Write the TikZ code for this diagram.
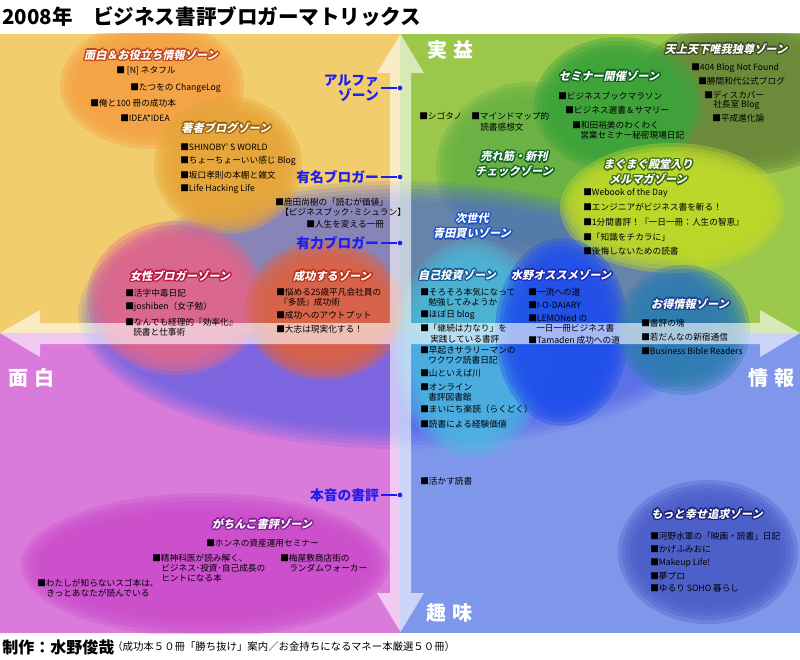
\documentclass[tikz,border=0pt]{standalone}
\usepackage{fontspec}
\setmainfont{Noto Sans CJK JP}
\newfontfamily\jpslant{Noto Sans CJK JP}[FakeSlant=0.22]
\definecolor{qTL}{HTML}{F2CD6D}
\definecolor{qTR}{HTML}{9BC84B}
\definecolor{qBL}{HTML}{DA7BDB}
\definecolor{qBR}{HTML}{7F97EB}
\definecolor{lblue}{HTML}{1E1EF0}
\definecolor{cOr}{HTML}{F6A245}
\definecolor{cGold}{HTML}{E6A53A}
\definecolor{cRose}{HTML}{E2668C}
\definecolor{cRed}{HTML}{DE6242}
\definecolor{cPurp}{HTML}{CC4ECC}
\definecolor{cOlive}{HTML}{6B893A}
\definecolor{cSem}{HTML}{3DA33A}
\definecolor{cUre}{HTML}{6AB244}
\definecolor{cMag}{HTML}{BED82A}
\definecolor{cNext}{HTML}{4A5CE8}
\definecolor{cSelf}{HTML}{48C0E0}
\definecolor{cMizu}{HTML}{2050EC}
\definecolor{cOtoku}{HTML}{2D7CB0}
\definecolor{cMotto}{HTML}{4A5CC8}
\definecolor{olOr}{HTML}{C0461A}
\definecolor{olGold}{HTML}{9A6410}
\definecolor{olRose}{HTML}{B5143C}
\definecolor{olRed}{HTML}{B8301A}
\definecolor{olPurp}{HTML}{7B1F8C}
\definecolor{olOlive}{HTML}{3C4A22}
\definecolor{olGreen}{HTML}{0E5E22}
\definecolor{olMag}{HTML}{3A6A12}
\definecolor{olBlue}{HTML}{1B50C8}
\definecolor{olTeal}{HTML}{135C9A}
\definecolor{olNavy}{HTML}{1C28B0}
\definecolor{olDBlue}{HTML}{1C3F8C}
\definecolor{olNight}{HTML}{1A1F78}
\newlength\olw
\setlength\olw{1.1pt}
\newcommand\olt[2]{\leavevmode
 \rlap{\kern-\olw\textcolor{#1}{#2}}%
 \rlap{\kern\olw\textcolor{#1}{#2}}%
 \rlap{\raisebox{\olw}{\textcolor{#1}{#2}}}%
 \rlap{\raisebox{-\olw}{\textcolor{#1}{#2}}}%
 \rlap{\kern-0.7\olw\raisebox{0.7\olw}{\textcolor{#1}{#2}}}%
 \rlap{\kern0.7\olw\raisebox{0.7\olw}{\textcolor{#1}{#2}}}%
 \rlap{\kern-0.7\olw\raisebox{-0.7\olw}{\textcolor{#1}{#2}}}%
 \rlap{\kern0.7\olw\raisebox{-0.7\olw}{\textcolor{#1}{#2}}}%
 \textcolor{white}{#2}}
\newcommand\blob[7]{%
 \foreach \dd in {12,8,4,0,-4,-8}{%
   \pgfmathsetmacro\brx{#3+\dd}\pgfmathsetmacro\bry{#4+\dd}%
   \fill[#6,opacity=#7] (#1,#2) ellipse [x radius=\brx, y radius=\bry, rotate=#5];
 }}
\newcommand\itmfont{\fontsize{6.5}{7.8}\selectfont}
\newcommand\zfont{\jpslant\bfseries\fontsize{8.4}{9}\selectfont}
\newcommand\blfont{\bfseries\fontsize{10.3}{9.8}\selectfont}
\newcommand\axfont{\bfseries\fontsize{15}{15}\selectfont}
\tikzset{
 itm/.style={font=\itmfont, anchor=west, inner sep=0pt, text=black},
 zlab/.style={font=\zfont, inner sep=0pt, align=center},
 blu/.style={font=\blfont, text=lblue, inner sep=1.5pt, anchor=east, align=right},
 bdot/.style={circle, fill=lblue, inner sep=0pt, minimum size=3.5pt},
 bline/.style={draw=lblue, line width=0.8pt},
 axl/.style={font=\axfont, text=white, inner sep=0pt},
}
\begin{document}
\begin{tikzpicture}[x=0.75pt,y=-0.75pt]
\useasboundingbox (0,0) rectangle (800,660);
\fill[white] (0,0) rectangle (800,660);
\begin{scope}
\clip (0,34) rectangle (800,633);
% quadrants
\fill[qTL] (0,34) rectangle (400,333);
\fill[qTR] (400,34) rectangle (800,333);
\fill[qBL] (0,333) rectangle (400,633);
\fill[qBR] (400,333) rectangle (800,633);
% zones
\blob{530}{168}{82}{74}{0}{cUre}{0.4}
\blob{400}{315}{310}{122}{0}{cNext}{0.15}
\blob{152}{85}{80}{52}{0}{cOr}{0.4}
\blob{228}{165}{62}{57}{0}{cGold}{0.4}
\blob{176}{298}{77}{65}{0}{cRose}{0.35}
\blob{325}{310}{68}{58}{0}{cRed}{0.35}
\blob{205}{565}{172}{60}{0}{cPurp}{0.35}
\blob{745}{97}{102}{66}{0}{cOlive}{0.4}
\blob{618}{105}{72}{56}{0}{cSem}{0.4}
\blob{672}{208}{100}{53}{0}{cMag}{0.4}
\blob{472}{348}{67}{98}{0}{cSelf}{0.22}
\blob{562}{332}{55}{82}{0}{cMizu}{0.38}
\blob{683}{330}{55}{53}{0}{cOtoku}{0.35}
\blob{708}{552}{78}{60}{0}{cMotto}{0.35}
% axes
\fill[white,opacity=0.6]
 (400.5,34) -- (424,73) -- (411,73) -- (411,593) -- (424,593) -- (400.5,632)
 -- (377,593) -- (390,593) -- (390,73) -- (377,73) -- cycle
 (0,333) -- (40,310) -- (40,323) -- (760,323) -- (760,310) -- (800,333)
 -- (760,357) -- (760,344) -- (40,344) -- (40,357) -- cycle;
\end{scope}
% title and footer
\node[anchor=west, inner sep=0pt, font=\bfseries\fontsize{15.4}{16}\selectfont] (title) at (2,17) {2008年　ビジネス書評ブロガーマトリックス};
\node[anchor=west, inner sep=0pt, font=\bfseries\fontsize{12}{12}\selectfont] (author) at (2,647) {制作：水野俊哉};
\node[anchor=west, inner sep=0pt, font=\fontsize{7.8}{8}\selectfont] (books) at (112,647) {（成功本５０冊「勝ち抜け」案内／お金持ちになるマネー本厳選５０冊）};
% axis labels
\node[axl] (ax1) at (450,50) {実\hspace{0.3em}益};
\node[axl] (ax2) at (31,378) {面\hspace{0.3em}白};
\node[axl] (ax3) at (771,378) {情\hspace{0.3em}報};
\node[axl] (ax4) at (449,613) {趣\hspace{0.3em}味};
% blue labels
\node[blu] (alpha) at (381,88) {アルファ\\ゾーン};
\node[bdot] (dA) at (400,88) {};
\draw[bline] (alpha.east) -- (dA);
\node[blu] (famous) at (381,177) {有名ブロガー};
\node[bdot] (dF) at (400,177) {};
\draw[bline] (famous.east) -- (dF);
\node[blu] (strong) at (381,243) {有力ブロガー};
\node[bdot] (dS) at (400,243) {};
\draw[bline] (strong.east) -- (dS);
\node[blu] (honne) at (381,495) {本音の書評};
\node[bdot] (dH) at (400,495) {};
\draw[bline] (honne.east) -- (dH);
% zone: omoshiro
\node[zlab] (z1) at (151,55) {\olt{olOr}{面白＆お役立ち情報ゾーン}};
\node[itm] (a1) at (116,71) {■ [N] ネタフル};
\node[itm] (a2) at (130,88) {■たつをの ChangeLog};
\node[itm] (a3) at (90,103) {■俺と100 冊の成功本};
\node[itm] (a4) at (120,118) {■IDEA*IDEA};
% zone: chosha
\node[zlab] (z2) at (226,128) {\olt{olGold}{著者ブログゾーン}};
\node[itm] (b1) at (180,147) {■SHINOBY' S WORLD};
\node[itm] (b2) at (180,161) {■ちょーちょーいい感じ Blog};
\node[itm] (b3) at (180,175) {■坂口孝則の本棚と雑文};
\node[itm] (b4) at (180,189) {■Life Hacking Life};
% gray band
\node[itm] (g1) at (275,202) {■鹿田尚樹の「読むが価値」};
\node[itm] (g2) at (280,212) {【ビジネスブック･ミシュラン】};
\node[itm] (g3) at (306,224) {■人生を変える一冊};
% zone: josei
\node[zlab] (z3) at (180,276) {\olt{olRose}{女性ブロガーゾーン}};
\node[itm] (c1) at (125,293) {■活字中毒日記};
\node[itm] (c2) at (125,307) {■joshiben（女子勉）};
\node[itm] (c3) at (125,322) {■なんでも経理的『効率化』};
\node[itm] (c4) at (133,332) {読書と仕事術};
% zone: seiko
\node[zlab] (z4) at (332,276) {\olt{olRed}{成功するゾーン}};
\node[itm] (d1) at (276,292) {■悩める25歳平凡会社員の};
\node[itm] (d2) at (279,302) {『多読』成功術};
\node[itm] (d3) at (276,315) {■成功へのアウトプット};
\node[itm] (d4) at (276,329) {■大志は現実化する！};
% zone: gachinko
\node[zlab] (z5) at (262,524) {\olt{olPurp}{がちんこ書評ゾーン}};
\node[itm] (e1) at (206,543) {■ホンネの資産運用セミナー};
\node[itm] (e2) at (152,558) {■精神科医が読み解く、};
\node[itm] (e3) at (161,568) {ビジネス･投資･自己成長の};
\node[itm] (e4) at (161,578) {ヒントになる本};
\node[itm] (e5) at (280,558) {■梅屋敷商店街の};
\node[itm] (e6) at (289,568) {ランダムウォーカー};
\node[itm] (e7) at (37,583) {■わたしが知らないスゴ本は、};
\node[itm] (e8) at (46,593) {きっとあなたが読んでいる};
% zone: tenjo
\node[zlab] (z6) at (726,49) {\olt{olOlive}{天上天下唯我独尊ゾーン}};
\node[itm] (f1) at (691,68) {■404 Blog Not Found};
\node[itm] (f2) at (698,81) {■勝間和代公式ブログ};
\node[itm] (f3) at (704,95) {■ディスカバー};
\node[itm] (f4) at (713,105) {社長室 Blog};
\node[itm] (f5) at (712,118) {■平成進化論};
% zone: seminar
\node[zlab] (z7) at (609,76) {\olt{olGreen}{セミナー開催ゾーン}};
\node[itm] (h1) at (558,96) {■ビジネスブックマラソン};
\node[itm] (h2) at (565,110) {■ビジネス選書＆サマリー};
\node[itm] (h3) at (572,125) {■和田裕美のわくわく};
\node[itm] (h4) at (580,135) {営業セミナー秘密現場日記};
% top items
\node[itm] (k1) at (419,116) {■シゴタノ};
\node[itm] (k2) at (471,116) {■マインドマップ的};
\node[itm] (k3) at (480,127) {読書感想文};
% zone: uresuji
\node[zlab] (z8) at (514,164) {\olt{olGreen}{売れ筋・新刊}\\\olt{olGreen}{チェックゾーン}};
% zone: magmag
\node[zlab] (z9) at (648,172) {\olt{olMag}{まぐまぐ殿堂入り}\\\olt{olMag}{メルマガゾーン}};
\node[itm] (m1) at (583,193) {■Webook of the Day};
\node[itm] (m2) at (583,207) {■エンジニアがビジネス書を斬る！};
\node[itm] (m3) at (583,222) {■1分間書評！『一日一冊：人生の智恵』};
\node[itm] (m4) at (583,237) {■「知識をチカラに」};
\node[itm] (m5) at (583,251) {■後悔しないための読書};
% zone: jisedai
\node[zlab] (z10) at (472,226) {\olt{olBlue}{次世代}\\\olt{olBlue}{青田買いゾーン}};
% zone: jiko toshi
\node[zlab] (z11) at (457,275) {\olt{olTeal}{自己投資ゾーン}};
\node[itm] (p1) at (420,292) {■そろそろ本気になって};
\node[itm] (p2) at (428,302) {勉強してみようか};
\node[itm] (p3) at (420,315) {■ほぼ日 blog};
\node[itm] (p4) at (420,328) {■「継続は力なり」を};
\node[itm] (p5) at (430,339) {実践している書評};
\node[itm] (p6) at (420,350) {■早起きサラリーマンの};
\node[itm] (p7) at (428,360) {ワクワク読書日記};
\node[itm] (p8) at (420,373) {■山といえば川};
\node[itm] (p9) at (420,387) {■オンライン};
\node[itm] (p10) at (428,397) {書評図書館};
\node[itm] (p11) at (420,409) {■まいにち楽読（らくどく）};
\node[itm] (p12) at (420,424) {■読書による経験価値};
\node[itm] (p13) at (420,481) {■活かす読書};
% zone: mizuno
\node[zlab] (z12) at (561,275) {\olt{olNavy}{水野オススメゾーン}};
\node[itm] (q1) at (528,292) {■一流への道};
\node[itm] (q2) at (528,305) {■I-O-DAIARY};
\node[itm] (q3) at (528,318) {■LEMONed の};
\node[itm] (q4) at (536,328) {一日一冊ビジネス書};
\node[itm] (q5) at (528,340) {■Tamaden 成功への道};
% zone: otoku
\node[zlab] (z13) at (690,304) {\olt{olDBlue}{お得情報ゾーン}};
\node[itm] (r1) at (641,323) {■書評の塊};
\node[itm] (r2) at (641,337) {■若だんなの新宿通信};
\node[itm] (r3) at (641,351) {■Business Bible Readers};
% zone: motto
\node[zlab] (z14) at (707,514) {\olt{olNight}{もっと幸せ追求ゾーン}};
\node[itm] (s1) at (650,536) {■河野水軍の「映画・読書」日記};
\node[itm] (s2) at (650,549) {■かげふみおに};
\node[itm] (s3) at (650,563) {■Makeup Life!};
\node[itm] (s4) at (650,576) {■夢ブロ};
\node[itm] (s5) at (650,588) {■ゆるり SOHO 暮らし};
\end{tikzpicture}
\end{document}
